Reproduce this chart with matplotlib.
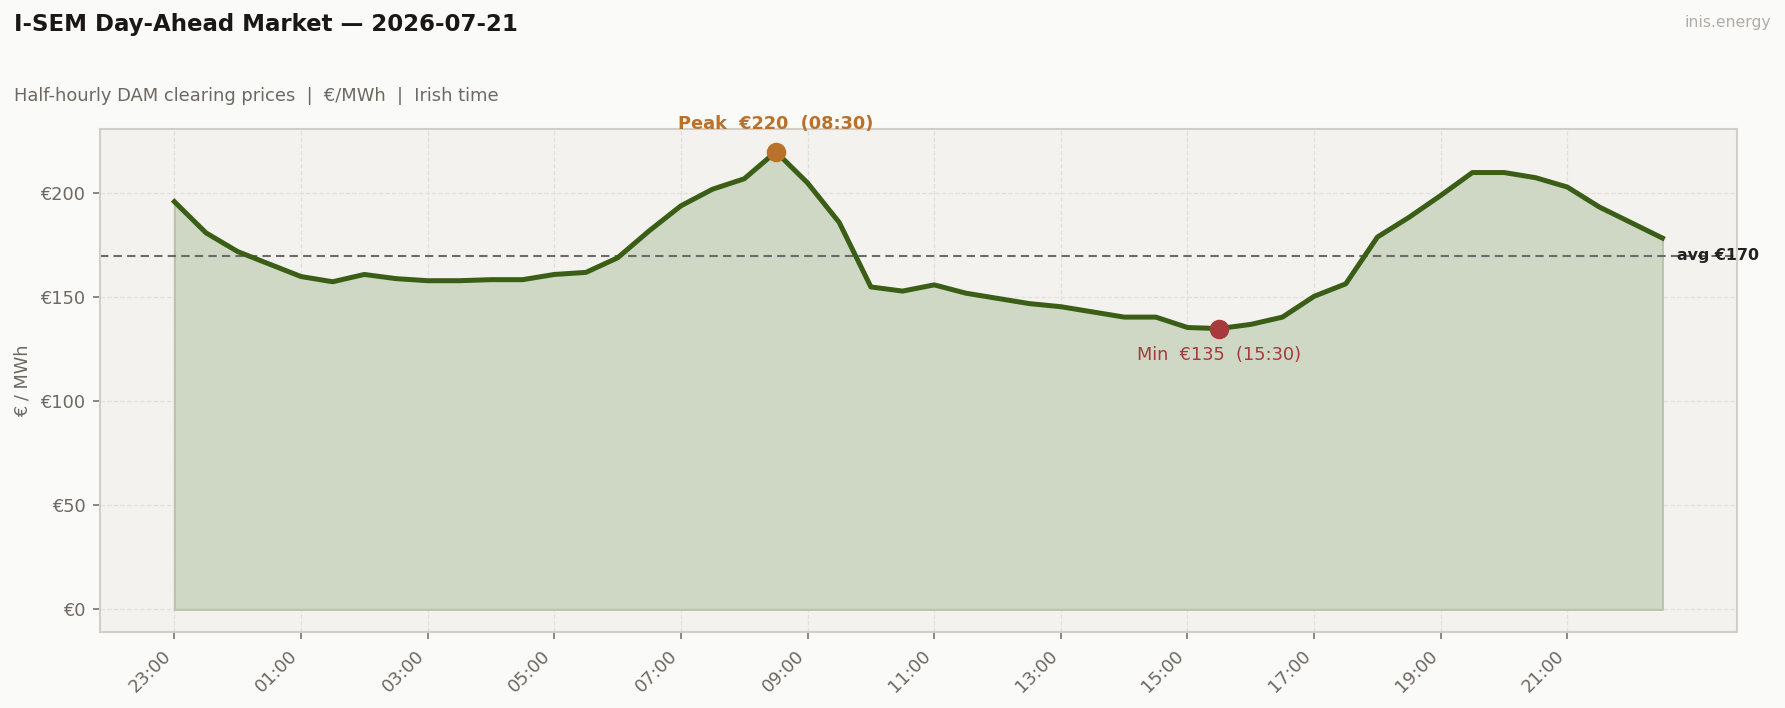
import numpy as np
import pandas as pd
import matplotlib
matplotlib.use("Agg")
from matplotlib import pyplot as plt
import matplotlib.dates as mdates

# half-hourly DAM prices, 23:00 (previous day) to 22:30
times = pd.date_range("2026-07-20 23:00", periods=48, freq="30min")
prices = [196, 181, 172, 166, 160, 157.5, 161, 159, 158, 158, 158.5, 158.5,
          161, 162, 169, 182, 194, 202, 207, 220, 205, 186, 155, 153,
          156, 152, 149.5, 147, 145.5, 143, 140.5, 140.5, 135.5, 135, 137, 140.5,
          150.5, 156.5, 179, 188.5, 199, 210, 210, 207.5, 203, 193.5, 186, 178.5]
yticks = [0, 50, 100, 150, 200]

prices = np.array(prices)
avg = prices.mean()
ipk = int(prices.argmax())
imn = int(prices.argmin())

green = "#3b5e17"
txt_gray = "#6e6862"

fig = plt.figure(figsize=(11.9, 4.72), dpi=150, facecolor="#fafaf8")
ax = fig.add_axes([0.056, 0.107, 0.917, 0.711])
ax.set_facecolor("#f3f2ef")

ax.fill_between(times, prices, 0, color="#cfd8c5", edgecolor="#b9c4ac", linewidth=1, zorder=1)
ax.plot(times, prices, color=green, lw=2.4, zorder=3)
ax.axhline(avg, color="#6b6b6b", lw=1, ls=(0, (4, 2.5)), zorder=2)

ax.scatter([times[ipk]], [prices[ipk]], s=70, color="#b8722c", zorder=5)
ax.scatter([times[imn]], [prices[imn]], s=70, color="#a63a3c", zorder=5)
ax.annotate("Peak  €{:.0f}  ({})".format(prices[ipk], times[ipk].strftime("%H:%M")),
            (times[ipk], prices[ipk]), xytext=(0, 13.5), textcoords="offset points",
            ha="center", va="center", fontsize=8.5, fontweight="bold", color="#b8722c",
            annotation_clip=False)
ax.annotate("Min  €{:.0f}  ({})".format(prices[imn], times[imn].strftime("%H:%M")),
            (times[imn], prices[imn]), xytext=(0, -12.5), textcoords="offset points",
            ha="center", va="center", fontsize=8.5, color="#a63a3c")
ax.annotate("avg €{:.0f}".format(avg), (times[-1], avg), xytext=(7, 0),
            textcoords="offset points", ha="left", va="center", fontsize=7.6,
            fontweight="bold", color="#222222", annotation_clip=False)

ax.set_xticks(times[::4])
ax.xaxis.set_major_formatter(mdates.DateFormatter("%H:%M"))
plt.setp(ax.get_xticklabels(), rotation=45, ha="right")
ax.set_yticks(yticks)
ax.set_yticklabels(["€{}".format(v) for v in yticks])
ax.tick_params(colors="#7a746e", labelcolor=txt_gray, labelsize=8.5)
ax.set_ylabel("€ / MWh", color=txt_gray, fontsize=8.5)
ax.grid(True, color="#e2e0dc", ls="--", lw=0.6)
ax.set_axisbelow(True)
for s in ax.spines.values():
    s.set_color("#d3cec7")
    s.set_linewidth(1)

fig.text(0.008, 0.965, "I-SEM Day-Ahead Market — 2026-07-21", fontsize=11,
         fontweight="bold", color="#1a1716", va="center")
fig.text(0.008, 0.865, "Half-hourly DAM clearing prices  |  €/MWh  |  Irish time",
         fontsize=8.6, color=txt_gray, va="center")
fig.text(0.992, 0.968, "inis.energy", fontsize=7.5, color="#b0aca6", ha="right", va="center")

fig.savefig("out.png", dpi=150, facecolor=fig.get_facecolor())
